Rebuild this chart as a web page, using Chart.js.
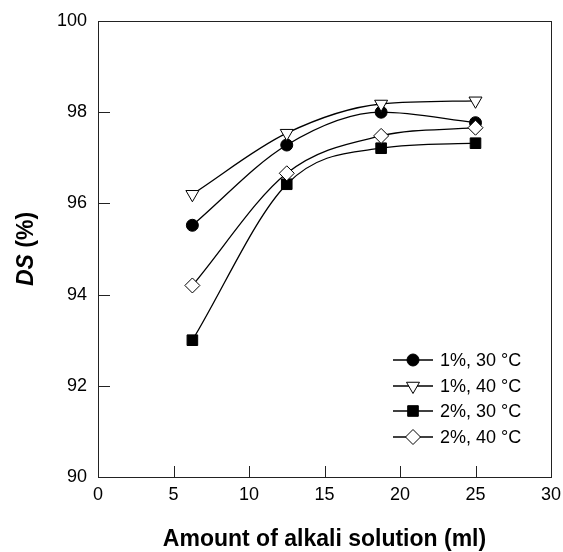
<!DOCTYPE html>
<html><head><meta charset="utf-8">
<script src="https://cdn.jsdelivr.net/npm/chart.js@4"></script>
<style>html,body{margin:0;padding:0;background:#fff}</style>
</head><body>
<div style="width:563px;height:552px"><canvas id="c" width="563" height="552"></canvas></div>
<script>
const xValues = [6.25, 12.5, 18.75, 25];
const ds1pct30 = [95.52, 97.28, 98.0, 97.77];
const ds1pct40 = [96.2, 97.54, 98.18, 98.25];
const ds2pct30 = [93.0, 96.42, 97.21, 97.32];
const ds2pct40 = [94.2, 96.66, 97.48, 97.66];
const seriesLabels = ['1%, 30 °C', '1%, 40 °C', '2%, 30 °C', '2%, 40 °C'];
const xTickValues = [0, 5, 10, 15, 20, 25, 30];
const yTickValues = [90, 92, 94, 96, 98, 100];
const xTitle = 'Amount of alkali solution (ml)';
const yTitleItalic = 'DS';
const yTitleRest = ' (%)';

const FONT = '"Liberation Sans", Arial, Helvetica, sans-serif';
const toPts = ys => xValues.map((x, i) => ({x: x, y: ys[i]}));

const styles = [
  {pointStyle: 'circle', radius: 6, bg: '#000', rotation: 0},
  {pointStyle: 'triangle', radius: 7.5, bg: '#fff', rotation: 180},
  {pointStyle: 'rect', radius: 7.5, bg: '#000', rotation: 0},
  {pointStyle: 'rectRot', radius: 7.5, bg: '#fff', rotation: 0}
];
const seriesData = [ds1pct30, ds1pct40, ds2pct30, ds2pct40];

const datasets = seriesData.map((d, i) => ({
  label: seriesLabels[i],
  data: toPts(d),
  order: seriesData.length - i,
  showLine: true,
  borderColor: '#000',
  borderWidth: 1.3,
  cubicInterpolationMode: 'monotone',
  pointStyle: styles[i].pointStyle,
  pointRadius: styles[i].radius,
  pointHoverRadius: styles[i].radius,
  pointRotation: styles[i].rotation,
  pointBackgroundColor: styles[i].bg,
  pointBorderColor: '#000',
  pointBorderWidth: 1
}));

const decor = {
  id: 'decor',
  afterDraw(chart) {
    const ctx = chart.ctx;
    const a = chart.chartArea;
    const xs = chart.scales.x, ys = chart.scales.y;
    ctx.save();
    ctx.strokeStyle = '#222';
    ctx.lineWidth = 1;
    ctx.strokeRect(Math.round(a.left) + 0.5, Math.round(a.top) + 0.5, Math.round(a.right - a.left), Math.round(a.bottom - a.top));
    ctx.beginPath();
    xTickValues.forEach(v => {
      const px = Math.round(xs.getPixelForValue(v)) + 0.5;
      ctx.moveTo(px, a.bottom);
      ctx.lineTo(px, a.bottom - 11);
    });
    yTickValues.forEach(v => {
      const py = Math.round(ys.getPixelForValue(v)) + 0.5;
      ctx.moveTo(a.left, py);
      ctx.lineTo(a.left + 12, py);
    });
    ctx.stroke();

    ctx.fillStyle = '#000';
    ctx.font = 'bold 23px ' + FONT;
    ctx.textAlign = 'center';
    ctx.textBaseline = 'middle';
    ctx.fillText(xTitle, (a.left + a.right) / 2, 540);

    ctx.save();
    ctx.translate(27, (a.top + a.bottom) / 2);
    ctx.rotate(-Math.PI / 2);
    ctx.font = 'italic bold 23px ' + FONT;
    const w1 = ctx.measureText(yTitleItalic).width;
    ctx.font = 'bold 23px ' + FONT;
    const w2 = ctx.measureText(yTitleRest).width;
    ctx.textAlign = 'left';
    ctx.font = 'italic bold 23px ' + FONT;
    ctx.fillText(yTitleItalic, -(w1 + w2) / 2, 0);
    ctx.font = 'bold 23px ' + FONT;
    ctx.fillText(yTitleRest, -(w1 + w2) / 2 + w1, 0);
    ctx.restore();

    const rowY = [360, 386, 411, 437];
    ctx.font = '18px ' + FONT;
    ctx.textAlign = 'left';
    ctx.textBaseline = 'middle';
    seriesLabels.forEach((lab, i) => {
      const y = rowY[i];
      ctx.strokeStyle = '#000';
      ctx.lineWidth = 1.3;
      ctx.beginPath();
      ctx.moveTo(393, y); ctx.lineTo(433, y);
      ctx.stroke();
      ctx.fillStyle = styles[i].bg;
      ctx.strokeStyle = '#000';
      ctx.lineWidth = 1;
      Chart.helpers.drawPoint(ctx, {pointStyle: styles[i].pointStyle, radius: styles[i].radius, rotation: styles[i].rotation, borderWidth: 1}, 413, y);
      ctx.fillStyle = '#000';
      ctx.fillText(lab, 440, y + 1);
    });
    ctx.restore();
  }
};

new Chart(document.getElementById('c'), {
  type: 'scatter',
  data: {datasets},
  options: {
    responsive: false,
    devicePixelRatio: 1,
    animation: false,
    layout: {padding: {top: 21, right: 12, left: 0, bottom: 0}},
    plugins: {legend: {display: false}, tooltip: {enabled: false}},
    scales: {
      x: {
        type: 'linear', min: 0, max: 30,
        afterBuildTicks: s => { s.ticks = xTickValues.map(v => ({value: v})); },
        afterFit: s => { s.height = 75; s.paddingLeft = 0; s.paddingRight = 0; },
        grid: {display: false, drawTicks: false},
        border: {display: false},
        ticks: {color: '#000', padding: 7, font: {size: 18, family: FONT}, maxRotation: 0}
      },
      y: {
        type: 'linear', min: 90, max: 100,
        afterBuildTicks: s => { s.ticks = yTickValues.map(v => ({value: v})); },
        afterFit: s => { s.width = 98; s.paddingTop = 0; s.paddingBottom = 0; },
        grid: {display: false, drawTicks: false},
        border: {display: false},
        ticks: {color: '#000', padding: 11, font: {size: 18, family: FONT}}
      }
    }
  },
  plugins: [decor]
});
</script>
</body></html>
